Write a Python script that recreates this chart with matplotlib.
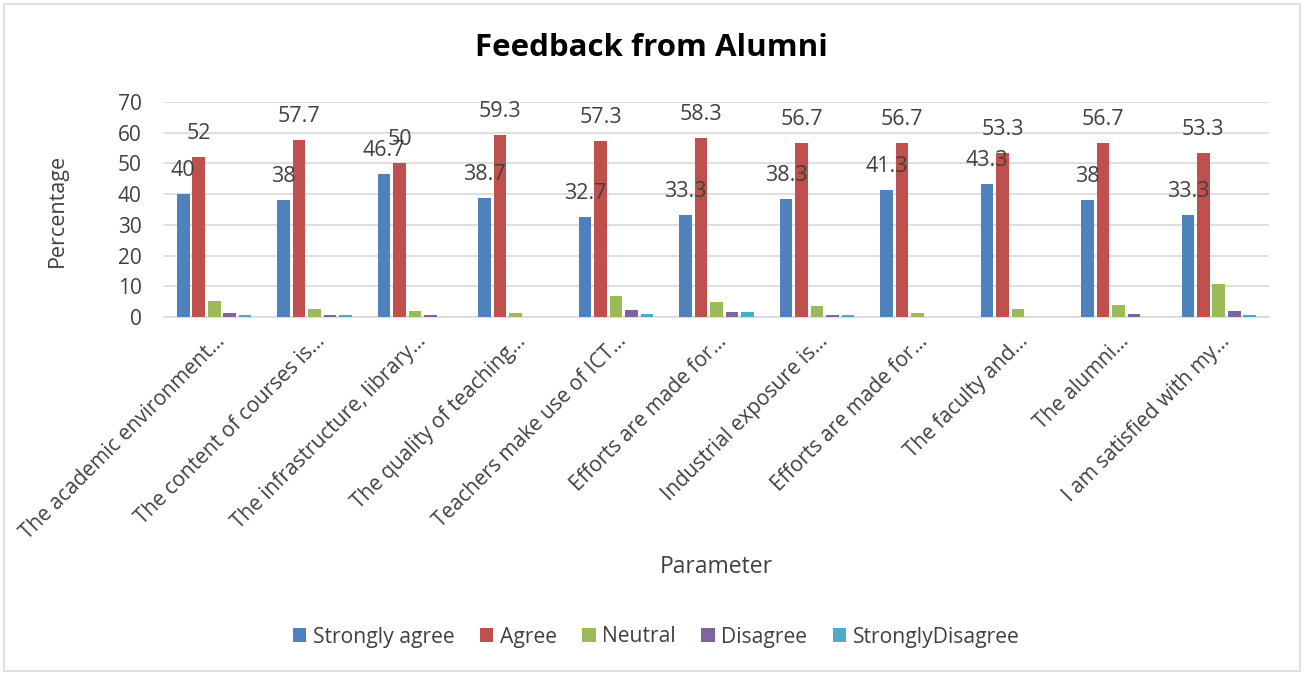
import matplotlib
matplotlib.use("Agg")
import matplotlib.pyplot as plt
import numpy as np

plt.rcParams['font.family'] = ['Open Sans', 'DejaVu Sans']

categories = ["The academic environment…", "The content of courses is…", "The infrastructure, library…",
              "The quality of teaching…", "Teachers make use of ICT…", "Efforts are made for…",
              "Industrial exposure is…", "Efforts are made for…", "The faculty and…",
              "The alumni…", "I am satisfied with my…"]
series_names = ["Strongly agree", "Agree", "Neutral", "Disagree", "StronglyDisagree"]
strongly_agree = [40, 38, 46.7, 38.7, 32.7, 33.3, 38.3, 41.3, 43.3, 38, 33.3]
agree = [52, 57.7, 50, 59.3, 57.3, 58.3, 56.7, 56.7, 53.3, 56.7, 53.3]
neutral = [5.3, 2.7, 2, 1.3, 6.7, 5, 3.7, 1.3, 2.7, 4, 10.7]
disagree = [1.3, 0.7, 0.7, 0, 2.3, 1.7, 0.7, 0, 0, 1, 2]
strongly_disagree = [0.7, 0.7, 0, 0, 1, 1.7, 0.7, 0, 0, 0, 0.7]
colors = ["#4F81BD", "#C0504D", "#9BBB59", "#8064A2", "#4BACC6"]

data = [strongly_agree, agree, neutral, disagree, strongly_disagree]

fig = plt.figure(figsize=(13.04, 6.75), dpi=100)
ax = fig.add_axes([164/1304, 1-317/675, (1269-164)/1304, (317-102)/675])

x = np.arange(len(categories))
step = 0.154
bw = 0.125
for i, (vals, name, c) in enumerate(zip(data, series_names, colors)):
    pos = x + (i - 2) * step
    ax.bar(pos, vals, width=bw, color=c, label=name, zorder=3)
    if i < 2:
        for p, v in zip(pos, vals):
            ax.annotate(f"{v:g}", (p, v), xytext=(0, 13), textcoords='offset points',
                        ha='center', va='baseline', fontsize=15.5, color='#404040', zorder=4)

ax.set_xlim(-0.5, len(categories) - 0.5)
ax.set_ylim(0, 70)
ax.set_yticks(range(0, 71, 10))
ax.yaxis.grid(True, color='#D9D9D9', linewidth=1.2, zorder=0)
for s in ['top', 'right', 'left']:
    ax.spines[s].set_visible(False)
ax.spines['bottom'].set_color('#D9D9D9')
ax.spines['bottom'].set_linewidth(1.2)
ax.tick_params(axis='both', length=0, labelsize=15, labelcolor='#404040')
ax.tick_params(axis='y', pad=16)
ax.set_xticks(x)
ax.set_xticklabels(categories, rotation=45, ha='right', rotation_mode='anchor')
ax.tick_params(axis='x', pad=10)

fig.text(651/1304, 1-48/675, "Feedback from Alumni", ha='center', va='center', fontsize=22.5, fontweight='bold', color='black')
fig.text(57/1304, 1-210/675, "Percentage", rotation=90, ha='center', va='center', fontsize=15.5, color='#404040')
fig.text(716/1304, 1-567/675, "Parameter", ha='center', va='center', fontsize=16.5, color='#404040')

handles, labels = ax.get_legend_handles_labels()
fig.legend(handles, labels, loc='center', bbox_to_anchor=(656/1304, 1-637/675), ncol=5, frameon=False,
           fontsize=15.2, handlelength=0.65, handleheight=0.65, columnspacing=1.2, handletextpad=0.3,
           labelcolor='#404040')

border = plt.Rectangle((4/1304, 4/675), 1-8/1304, 1-8/675, transform=fig.transFigure, fill=False,
                       edgecolor='#D9D9D9', linewidth=1.2)
fig.patches.append(border)

fig.savefig("out.png", dpi=100)
